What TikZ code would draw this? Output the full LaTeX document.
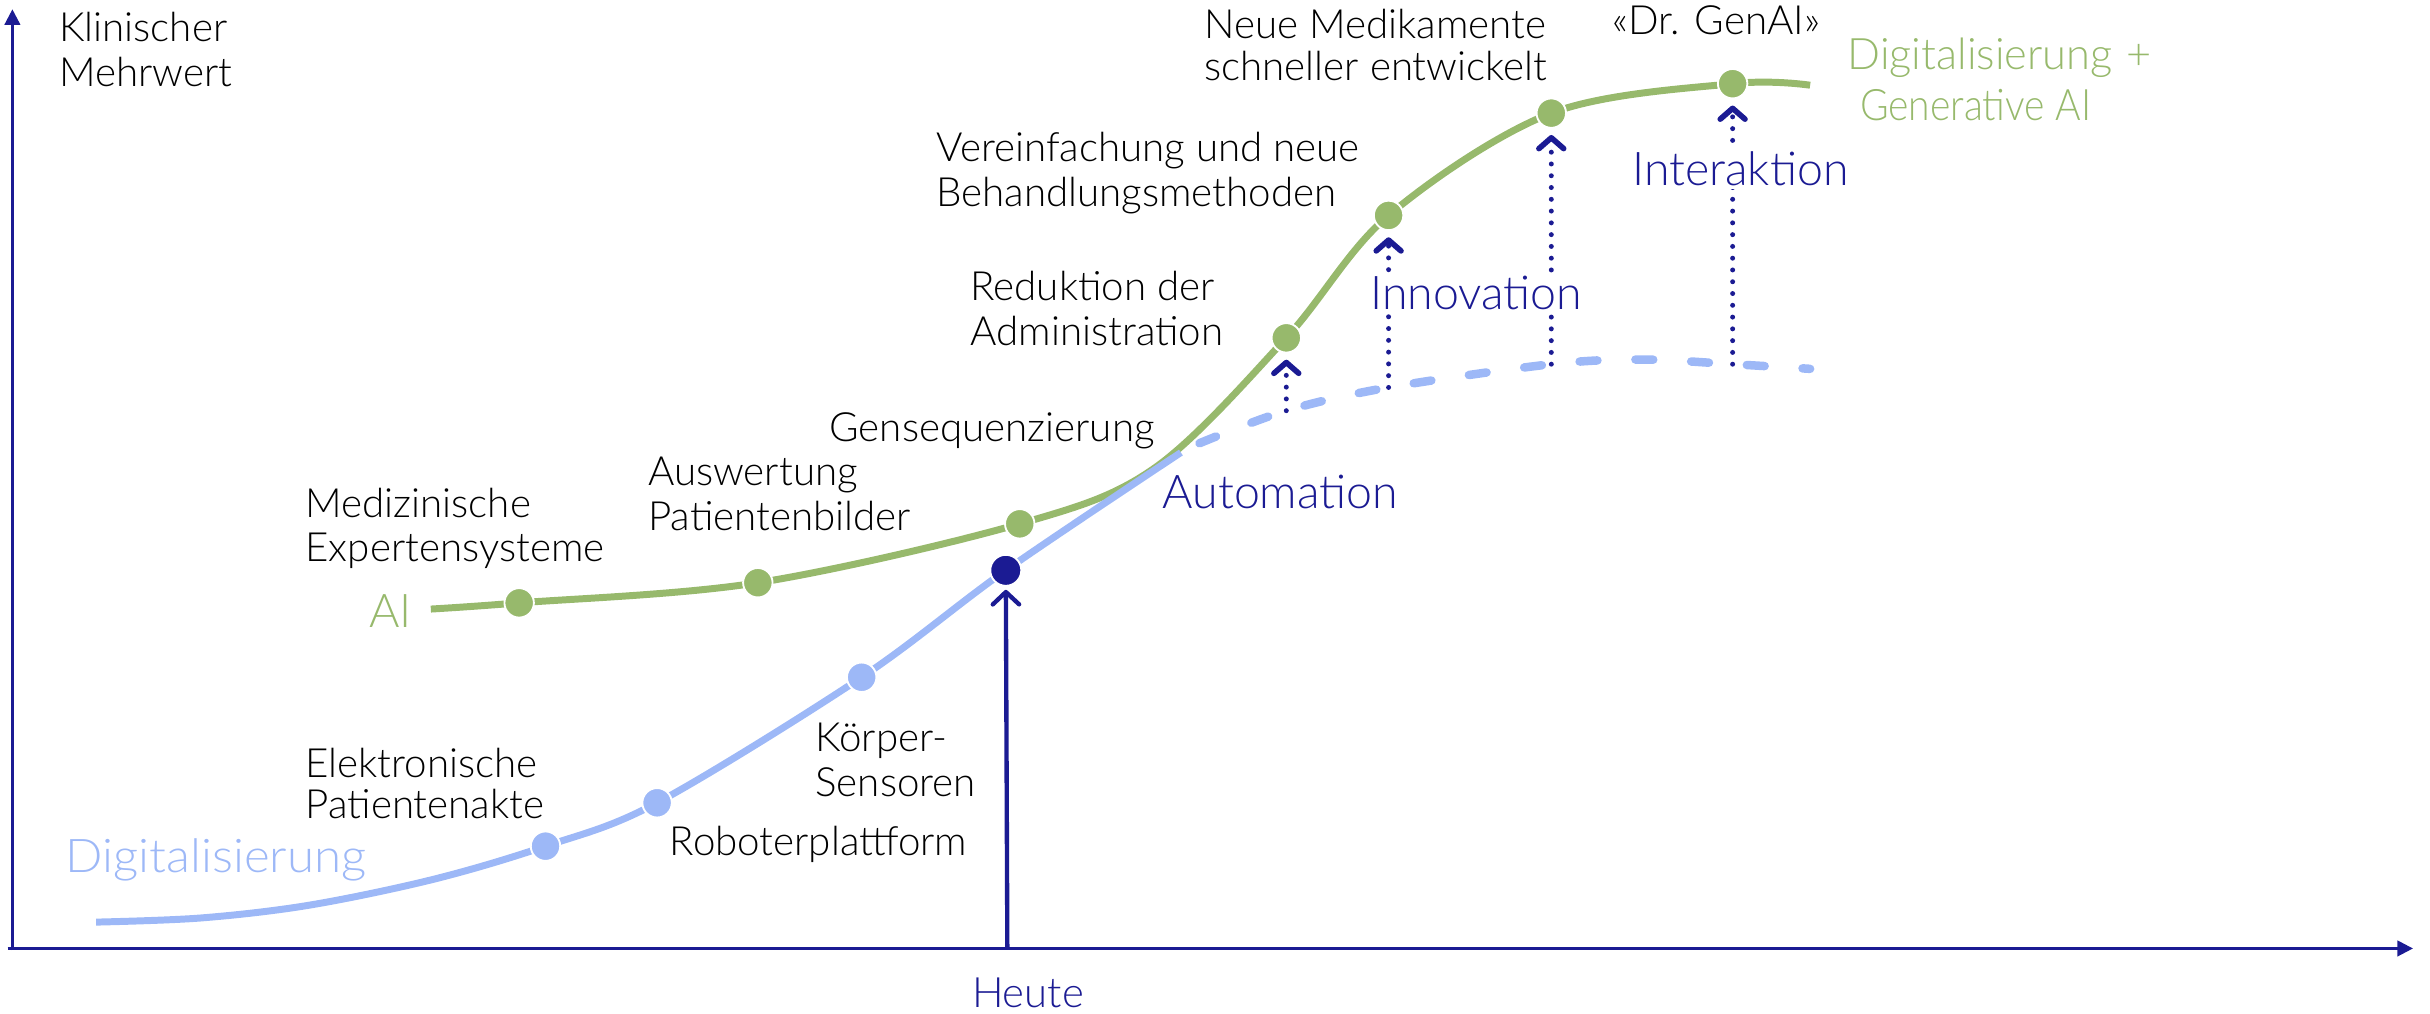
\documentclass[tikz,border=0pt]{standalone}
\usepackage{fontspec}
\IfFontExistsTF{Lato Light}{\setmainfont{Lato Light}}{\setmainfont{Lato}}
\usetikzlibrary{arrows.meta}
\definecolor{aigreen}{HTML}{97B96C}
\definecolor{digblue}{HTML}{9DB8F7}
\definecolor{navy}{HTML}{1B1B93}
\tikzset{
  lbl/.style={anchor=base west, inner sep=0pt, text=black, font=\fontsize{26}{30}\selectfont},
  navylbl/.style={anchor=base west, inner sep=2pt, text=navy, fill=white, font=\fontsize{30}{34}\selectfont},
  greenlbl/.style={anchor=base west, inner sep=0pt, text=aigreen, font=\fontsize{28}{32}\selectfont},
  bluelbl/.style={anchor=base west, inner sep=0pt, text=digblue, font=\fontsize{30}{34}\selectfont},
  gdot/.style={circle, fill=aigreen, draw=white, line width=1.2pt, minimum size=19pt, inner sep=0pt},
  bdot/.style={circle, fill=digblue, draw=white, line width=1.2pt, minimum size=19pt, inner sep=0pt},
  ndot/.style={circle, fill=navy, draw=white, line width=1.2pt, minimum size=20pt, inner sep=0pt},
  axisline/.style={navy, line width=1.6pt, -{Triangle[length=10pt,width=10pt]}},
  dotarrow/.style={navy, line width=3.2pt, line cap=round, dash pattern=on 0pt off 7.6pt,
    -{Straight Barb[length=7pt,width=16pt,line width=3.6pt,round]}, shorten >=4pt},
  heutearrow/.style={navy, line width=2.8pt, -{Straight Barb[length=8pt,width=17pt,line width=2.8pt,round]}, shorten >=2pt},
  aicurve/.style={aigreen, line width=4.5pt},
  digcurve/.style={digblue, line width=4.5pt},
  digdash/.style={digblue, line width=5.5pt, line cap=round, dash pattern=on 11.5pt off 24.5pt},
}
\begin{document}
\begin{tikzpicture}[x=1pt,y=-1pt]
\useasboundingbox (0,0) rectangle (1568,654);

% coordinates of points on curves
\coordinate (g1) at (335,389);
\coordinate (g2) at (489,376);
\coordinate (g3) at (658,338);
\coordinate (g4) at (830,218);
\coordinate (g5) at (896,139);
\coordinate (g6) at (1001,73);
\coordinate (g7) at (1118,54);
\coordinate (b1) at (352,546);
\coordinate (b2) at (424,518);
\coordinate (b3) at (556,437);
\coordinate (bt) at (649,368);
\coordinate (d1) at (830,265);
\coordinate (d2) at (896,250);
\coordinate (d3) at (1001,235);
\coordinate (d4) at (1118,235);
\coordinate (xa0) at (5,612);
\coordinate (xa1) at (1557,612);
\coordinate (ya0) at (8,613);
\coordinate (ya1) at (8,6);
\coordinate (hb) at (650,612);

% axes
\draw[axisline] (xa0) -- (xa1);
\draw[axisline] (ya0) -- (ya1);

% AI curve
\draw[aicurve] plot[smooth, tension=0.55] coordinates {(278,393) (g1) (g2) (g3) (745,302) (g4) (g5) (g6) (g7) (1168,55)};
% Digitalisierung curve
\draw[digcurve] plot[smooth, tension=0.55] coordinates {(62,595) (130,592.3) (200,584) (280,567.3) (b1) (b2) (b3) (bt) (762,292)};
\draw[digdash] plot[smooth, tension=0.55] coordinates {(774,286) (d1) (d2) (d3) (1060,232) (d4) (1168,238)};

% dots
\node[gdot] (G1) at (g1) {};
\node[gdot] (G2) at (g2) {};
\node[gdot] (G3) at (g3) {};
\node[gdot] (G4) at (g4) {};
\node[gdot] (G5) at (g5) {};
\node[gdot] (G6) at (g6) {};
\node[gdot] (G7) at (g7) {};
\node[bdot] (B1) at (b1) {};
\node[bdot] (B2) at (b2) {};
\node[bdot] (B3) at (b3) {};
\node[ndot] (T) at (bt) {};

% arrows
\draw[heutearrow] (hb) -- (T);
\draw[dotarrow] (d1) -- (G4);
\draw[dotarrow] (d2) -- (G5);
\draw[dotarrow] (d3) -- (G6);
\draw[dotarrow] (d4) -- (G7);

% labels
\node[lbl] (k1) at (38,27) {Klinischer};
\node[lbl] (k2) at (38,56) {Mehrwert};
\node[lbl] (nm1) at (777,25) {Neue Medikamente};
\node[lbl] (nm2) at (777,52) {schneller entwickelt};
\node[lbl] (dr) at (1040,22) {«Dr. GenAI»};
\node[greenlbl] (dg1) at (1192,45) {Digitalisierung\hspace{9pt}+};
\node[greenlbl] (dg2) at (1200,78) {\scalebox{0.9}[1]{Generative AI}};
\node[lbl] (v1) at (604,104) {Vereinfachung und neue};
\node[lbl] (v2) at (604,133) {Behandlungsmethoden};
\node[lbl] (r1) at (626,194) {Reduktion der};
\node[lbl] (r2) at (626,223) {Administration};
\node[lbl] (gs) at (535,285) {Gensequenzierung};
\node[lbl] (a1) at (418,313) {Auswertung};
\node[lbl] (a2) at (418,342) {Patientenbilder};
\node[lbl] (m1) at (197,334) {Medizinische};
\node[lbl] (m2) at (197,362) {Expertensysteme};
\node[greenlbl, font=\fontsize{30}{34}\selectfont] (ai) at (238,405) {AI};
\node[lbl] (e1) at (197,502) {Elektronische};
\node[lbl] (e2) at (197,528) {Patientenakte};
\node[lbl] (ks1) at (526,485) {Körper-};
\node[lbl] (ks2) at (526,514) {Sensoren};
\node[lbl] (rp) at (432,552) {Roboterplattform};
\node[bluelbl] (dl) at (42,563) {\scalebox{1.06}[1]{Digitalisierung}};
\node[navylbl] (au) at (748,328) {Automation};
\node[navylbl] (inn) at (882,200) {Innovation};
\node[navylbl] (int) at (1051,120) {Interaktion};
\node[navylbl, fill=none, inner sep=0pt, font=\fontsize{27}{32}\selectfont] (he) at (627,650) {Heute};
\end{tikzpicture}
\end{document}
